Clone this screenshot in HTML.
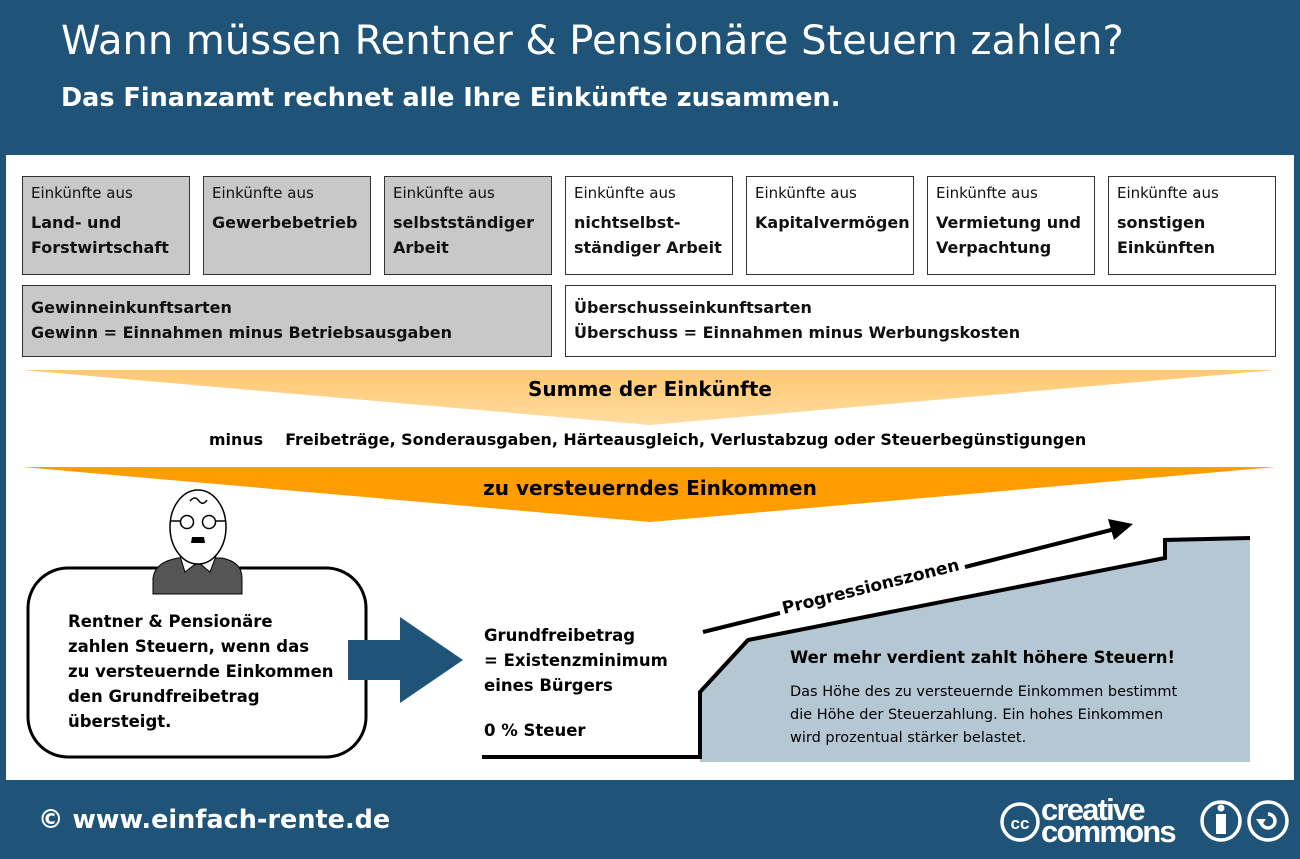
<!DOCTYPE html>
<html><head><meta charset="utf-8"><style>
body{margin:0;width:1300px;height:859px;background:#1f5478;position:relative;overflow:hidden;font-family:"DejaVu Sans","Liberation Sans",sans-serif}
.a{position:absolute;white-space:nowrap}
.box{position:absolute;border:1.5px solid #333;box-sizing:border-box;padding:5px 8px;font-size:16px;line-height:25px;color:#111}
.g{background:#c8c8c8}.w{background:#fff}
.box small{font-size:15px;display:block;line-height:22px;margin-bottom:6px}
.box b{font-weight:600}
</style></head><body>
<div class="a" style="left:61px;top:18px;font-size:40px;color:#fff">Wann müssen Rentner &amp; Pensionäre Steuern zahlen?</div>
<div class="a" style="left:61px;top:83px;font-size:25.5px;color:#fff;font-weight:600">Das Finanzamt rechnet alle Ihre Einkünfte zusammen.</div>
<div class="a" style="left:6px;top:155px;width:1288px;height:625px;background:#fff"></div>

<div class="box g" style="left:22px;top:176px;width:168px;height:99px"><small>Einkünfte aus</small><b>Land- und<br>Forstwirtschaft</b></div>
<div class="box g" style="left:203px;top:176px;width:168px;height:99px"><small>Einkünfte aus</small><b>Gewerbebetrieb</b></div>
<div class="box g" style="left:384px;top:176px;width:168px;height:99px"><small>Einkünfte aus</small><b>selbstständiger<br>Arbeit</b></div>
<div class="box w" style="left:565px;top:176px;width:168px;height:99px"><small>Einkünfte aus</small><b>nichtselbst-<br>ständiger Arbeit</b></div>
<div class="box w" style="left:746px;top:176px;width:168px;height:99px"><small>Einkünfte aus</small><b>Kapitalvermögen</b></div>
<div class="box w" style="left:927px;top:176px;width:168px;height:99px"><small>Einkünfte aus</small><b>Vermietung und<br>Verpachtung</b></div>
<div class="box w" style="left:1108px;top:176px;width:168px;height:99px"><small>Einkünfte aus</small><b>sonstigen<br>Einkünften</b></div>
<div class="box g" style="left:22px;top:285px;width:530px;height:72px;padding-top:9px"><b>Gewinneinkunftsarten<br>Gewinn = Einnahmen minus Betriebsausgaben</b></div>
<div class="box w" style="left:565px;top:285px;width:711px;height:72px;padding-top:9px"><b>Überschusseinkunftsarten<br>Überschuss = Einnahmen minus Werbungskosten</b></div>

<svg class="a" style="left:0;top:0" width="1300" height="859">
<defs><linearGradient id="lg" x1="0" y1="0" x2="0" y2="1"><stop offset="0" stop-color="#ffc870"/><stop offset="1" stop-color="#ffdca0"/></linearGradient></defs>
<polygon points="22,370 1275,370 650,425" fill="url(#lg)"/>
<polygon points="22,467 1275,467 650,522" fill="#ff9c00"/>
<rect x="28" y="568" width="338" height="189" rx="40" fill="#fff" stroke="#000" stroke-width="3"/>
<polygon points="348,640 400,640 400,617 463,660 400,703 400,680 348,680" fill="#1f5478"/>
<polygon points="700,762 700,692 748,640 1165,558 1165,540 1250,538 1250,762" fill="#b5c7d3"/>
<polyline points="482,757 700,757 700,692 748,640 1165,558 1165,540 1250,538" fill="none" stroke="#000" stroke-width="4"/>
<line x1="703" y1="632" x2="780" y2="613" stroke="#000" stroke-width="4"/>
<line x1="965" y1="567" x2="1115" y2="529" stroke="#000" stroke-width="4"/>
<polygon points="1133,524 1108,519 1114,540" fill="#000"/>
<text x="872" y="592" transform="rotate(-14 872 592)" font-size="17" font-weight="600" text-anchor="middle" font-family="DejaVu Sans,sans-serif">Progressionszonen</text>
<!-- person -->
<path d="M153,594 L153,578 Q155,562 178,558 L222,558 Q242,562 242,578 L242,594 Z" fill="#555" stroke="#000"/>
<path d="M180,556 L185,572 L198,562 L210,572 L216,556 Z" fill="#fff" stroke="#000"/>
<ellipse cx="198" cy="527" rx="28" ry="37" fill="#fff" stroke="#000" stroke-width="1.5"/>
<circle cx="187" cy="522" r="6.5" fill="none" stroke="#000" stroke-width="1.5"/>
<circle cx="209" cy="522" r="6.5" fill="none" stroke="#000" stroke-width="1.5"/>
<line x1="170" y1="521" x2="180" y2="521" stroke="#000" stroke-width="1.5"/><line x1="216" y1="521" x2="226" y2="521" stroke="#000" stroke-width="1.5"/>
<path d="M192,537 L204,537 L205,543 L191,543 Z" fill="#000"/>
<path d="M190,501 Q195,495 199,501 Q203,506 207,500" fill="none" stroke="#000" stroke-width="1.5"/>
<!-- cc -->
<g fill="none" stroke="#fff" stroke-width="3.5">
<circle cx="1020" cy="822" r="18"/><circle cx="1221" cy="821" r="19"/><circle cx="1268" cy="821" r="19"/></g>
<text x="1020" y="829" font-size="17" font-weight="bold" fill="#fff" text-anchor="middle" font-family="Liberation Sans,sans-serif">cc</text>
<text x="1041" y="820" font-size="31" font-weight="bold" fill="#fff" font-family="Liberation Sans,sans-serif" letter-spacing="-1.8">creative</text>
<text x="1041" y="842" font-size="31" font-weight="bold" fill="#fff" font-family="Liberation Sans,sans-serif" letter-spacing="-1.8">commons</text>
<circle cx="1221" cy="808" r="3.5" fill="#fff"/><rect x="1216" y="814" width="10" height="20" fill="#fff"/>
<path d="M1261,821 A7,7 0 1 0 1268,814" fill="none" stroke="#fff" stroke-width="3.5"/><polygon points="1256,819 1266,819 1261,826" fill="#fff"/>
</svg>

<div class="a" style="left:0;width:1300px;text-align:center;top:377px;font-size:20px;font-weight:600">Summe der Einkünfte</div>
<div class="a" style="left:209px;top:430px;font-size:15.9px;font-weight:600">minus&nbsp;&nbsp;&nbsp; Freibeträge, Sonderausgaben, Härteausgleich, Verlustabzug oder Steuerbegünstigungen</div>
<div class="a" style="left:0;width:1300px;text-align:center;top:476px;font-size:20px;font-weight:600">zu versteuerndes Einkommen</div>
<div class="a" style="left:68px;top:609px;font-size:16.5px;font-weight:600;line-height:25px">Rentner &amp; Pensionäre<br>zahlen Steuern, wenn das<br>zu versteuernde Einkommen<br>den Grundfreibetrag<br>übersteigt.</div>
<div class="a" style="left:484px;top:623px;font-size:16.5px;font-weight:600;line-height:25px">Grundfreibetrag<br>= Existenzminimum<br>eines Bürgers</div>
<div class="a" style="left:484px;top:721px;font-size:16.5px;font-weight:600">0 % Steuer</div>
<div class="a" style="left:790px;top:648px;font-size:16.5px;font-weight:600">Wer mehr verdient zahlt höhere Steuern!</div>
<div class="a" style="left:790px;top:681px;font-size:14.5px;line-height:23px">Das Höhe des zu versteuernde Einkommen bestimmt<br>die Höhe der Steuerzahlung. Ein hohes Einkommen<br>wird prozentual stärker belastet.</div>
<div class="a" style="left:38px;top:805px;font-size:25.5px;color:#fff;font-weight:600">©&nbsp;www.einfach-rente.de</div>
</body></html>
